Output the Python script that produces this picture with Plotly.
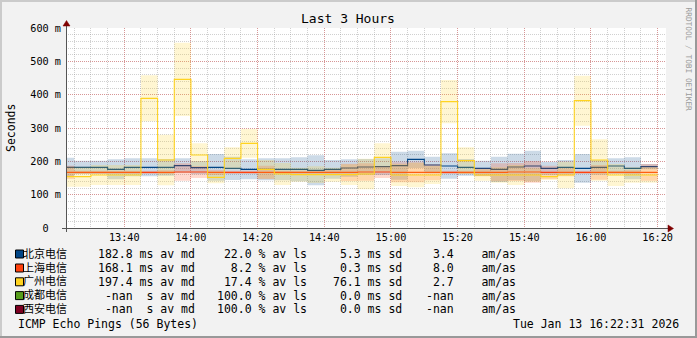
import plotly.graph_objects as go
import pandas as pd

# ---------------- data ----------------
slot_times = ["13:20", "13:25", "13:30", "13:35", "13:40", "13:45", "13:50", "13:55",
              "14:00", "14:05", "14:10", "14:15", "14:20", "14:25", "14:30", "14:35",
              "14:40", "14:45", "14:50", "14:55", "15:00", "15:05", "15:10", "15:15",
              "15:20", "15:25", "15:30", "15:35", "15:40", "15:45", "15:50", "15:55",
              "16:00", "16:05", "16:10", "16:15"]
slot_end = "16:20"
day = "2026-01-13"
range_start = "13:22:31"
range_end = "16:22:31"
x_ticks = ["13:40", "14:00", "14:20", "14:40", "15:00", "15:20", "15:40", "16:00", "16:20"]

# 北京电信 median / spread (ms)
bj_med = [182, 182, 182, 176, 182, 182, 182, 187, 181, 182, 179, 176, 176, 176, 176, 173,
          176, 180, 183, 184, 187, 206, 189, 186, 182, 179, 176, 183, 186, 179, 182, 179,
          182, 186, 179, 184]
bj_sd = [29, 20, 20, 30, 27, 27, 25, 22, 20, 40, 35, 30, 33, 33, 36, 45,
         28, 26, 24, 25, 42, 26, 25, 38, 25, 23, 38, 40, 46, 20, 22, 43,
         22, 23, 33, 8]
# 上海电信
sh_med = [167, 167, 167, 167, 167, 167, 167, 168, 168, 167, 167, 167, 167, 167, 167, 167,
          167, 167, 168, 168, 167, 167, 167, 167, 167, 167, 167, 168, 168, 167, 167, 167,
          167, 167, 167, 167]
sh_sd = [20, 5, 5, 5, 5, 5, 6, 26, 18, 8, 5, 5, 20, 5, 5, 5,
         8, 26, 26, 18, 30, 30, 24, 5, 5, 12, 27, 27, 32, 20, 12, 5,
         22, 5, 6, 25]
# 广州电信
gz_med = [154, 154, 159, 159, 159, 389, 204, 446, 219, 152, 209, 254, 176, 162, 160, 160,
          160, 160, 162, 212, 159, 159, 159, 379, 202, 159, 159, 159, 159, 154, 159, 382,
          204, 159, 159, 159]
gz_sd = [30, 30, 30, 30, 30, 69, 76, 110, 35, 18, 33, 43, 28, 33, 21, 25,
         21, 31, 46, 42, 33, 37, 27, 65, 40, 17, 23, 30, 20, 10, 40, 75,
         62, 33, 23, 23]

hosts = ["北京电信", "上海电信", "广州电信", "成都电信", "西安电信"]
host_colors = ["#004586", "#ff420e", "#ffd320", "#579d1c", "#7e0021"]
band_rgb = ["0,69,134", "255,66,14", "255,211,32"]
avg_md = [182.8, 168.1, 197.4, None, None]
avg_ls = [22.0, 8.2, 17.4, 100.0, 100.0]
avg_sd = [5.3, 0.3, 76.1, 0.0, 0.0]
am_as = [3.4, 8.0, 2.7, None, None]

y_ticks = [0, 100, 200, 300, 400, 500, 600]
y_ticktext = ["0\u00a0\u00a0", "100\u00a0m", "200\u00a0m", "300\u00a0m",
              "400\u00a0m", "500\u00a0m", "600\u00a0m"]

title = "Last 3 Hours"
y_title = "Seconds"
footer_left = "ICMP Echo Pings (56 Bytes)"
footer_right = "Tue Jan 13 16:22:31 2026"
watermark = "RRDTOOL / TOBI OETIKER"

# ---------------- helpers ----------------
W, H = 697, 338
L, R, T, B = 66, 666, 28, 228
MONO = "DejaVu Sans Mono, Noto Sans CJK SC"


def px(x):
    return (x - L) / (R - L)


def py(y):
    return (B - y) / (B - T)


starts = [pd.Timestamp(f"{day} {t}") for t in slot_times]
ends = starts[1:] + [pd.Timestamp(f"{day} {slot_end}")]
minor_vals = starts + [ends[-1]]
major_vals = [pd.Timestamp(f"{day} {t}") for t in x_ticks]


def band_poly(med, sd):
    xs, ys = [], []
    for t0, t1, m, s in zip(starts, ends, med, sd):
        xs += [t0, t1]
        ys += [m + s, m + s]
    for t0, t1, m, s in reversed(list(zip(starts, ends, med, sd))):
        xs += [t1, t0]
        ys += [m - s, m - s]
    return xs, ys


fig = go.Figure()
series = [(bj_med, bj_sd), (sh_med, sh_sd), (gz_med, gz_sd)]
for i, (med, sd) in enumerate(series):
    bx, by = band_poly(med, sd)
    fig.add_trace(go.Scatter(x=bx, y=by, mode="none", fill="toself",
                             fillcolor=f"rgba({band_rgb[i]},0.2)",
                             hoverinfo="skip", showlegend=False))
    fig.add_trace(go.Scatter(x=starts + [ends[-1]], y=med + [med[-1]], mode="lines",
                             line=dict(color=host_colors[i], width=1.1, shape="hv"),
                             showlegend=False))

mgrid = "rgba(224,80,80,0.45)"
grid = "rgba(143,143,143,0.42)"
fig.update_xaxes(
    type="date",
    range=[f"{day} {range_start}", f"{day} {range_end}"],
    tickmode="array", tickvals=major_vals, ticktext=x_ticks,
    showgrid=True, gridcolor=mgrid, griddash="1px,1px", gridwidth=1,
    minor=dict(tickmode="array", tickvals=minor_vals, showgrid=True,
               gridcolor=grid, griddash="1px,1px", gridwidth=1),
    showline=False, zeroline=False, ticks="",
    tickfont=dict(family=MONO, size=10.2, color="#000"),
    ticklabelstandoff=2,
)
fig.update_yaxes(
    range=[0, 600], tickmode="array", tickvals=y_ticks, ticktext=y_ticktext,
    showgrid=True, gridcolor=mgrid, griddash="1px,1px", gridwidth=1,
    minor=dict(tick0=0, dtick=20, showgrid=True, gridcolor=grid,
               griddash="1px,1px", gridwidth=1),
    showline=False, zeroline=False, ticks="",
    tickfont=dict(family=MONO, size=10.2, color="#000"),
    ticklabelstandoff=4,
)

shapes = []
# frame shades
shapes.append(dict(type="rect", xref="paper", yref="paper", x0=px(0), x1=px(W), y0=py(0), y1=py(2),
                   fillcolor="#cbcbcb", line_width=0, layer="above"))
shapes.append(dict(type="rect", xref="paper", yref="paper", x0=px(0), x1=px(2), y0=py(0), y1=py(H),
                   fillcolor="#cbcbcb", line_width=0, layer="above"))
shapes.append(dict(type="rect", xref="paper", yref="paper", x0=px(0), x1=px(W), y0=py(H - 2), y1=py(H),
                   fillcolor="#999999", line_width=0, layer="above"))
shapes.append(dict(type="rect", xref="paper", yref="paper", x0=px(W - 2), x1=px(W), y0=py(0), y1=py(H),
                   fillcolor="#999999", line_width=0, layer="above"))
# axes
axis_col = "#555555"
shapes.append(dict(type="line", xref="paper", yref="paper", x0=px(62), x1=px(669), y0=py(228.5), y1=py(228.5),
                   line=dict(color=axis_col, width=1), layer="above"))
shapes.append(dict(type="line", xref="paper", yref="paper", x0=px(66.5), x1=px(66.5), y0=py(232), y1=py(25),
                   line=dict(color=axis_col, width=1), layer="above"))
# arrows
shapes.append(dict(type="path", xref="paper", yref="paper",
                   path=f"M {px(668)} {py(225)} L {px(673.5)} {py(228.5)} L {px(668)} {py(232)} Z",
                   fillcolor="#7f0000", line=dict(color="#7f0000", width=0.5), layer="above"))
shapes.append(dict(type="path", xref="paper", yref="paper",
                   path=f"M {px(63)} {py(26)} L {px(66.5)} {py(20.5)} L {px(70)} {py(26)} Z",
                   fillcolor="#7f0000", line=dict(color="#7f0000", width=0.5), layer="above"))

ann = []


def text(x, y, s, size=11.5, anchor="left", color="#000", angle=0):
    ann.append(dict(x=px(x), y=py(y), xref="paper", yref="paper", text=s.replace(" ", "\u00a0"),
                    showarrow=False, xanchor=anchor, yanchor="middle", textangle=angle,
                    font=dict(family=MONO, size=size, color=color)))


text(348, 18.5, title, size=13, anchor="center")
text(11, 128, y_title, size=11.5, anchor="center", angle=-90)
text(688.5, 59, watermark, size=7.8, anchor="center", color="#9a9a9a", angle=90)

row_y = [254, 268, 281.8, 295.6, 309.4]
for i, name in enumerate(hosts):
    yy = row_y[i]
    shapes.append(dict(type="rect", xref="paper", yref="paper", x0=px(15.5), x1=px(23.5),
                       y0=py(yy - 4), y1=py(yy + 4), fillcolor=host_colors[i],
                       line=dict(color="#000", width=1), layer="above"))
    text(20.5, yy, name, size=11)
    md = f"{avg_md[i]:5.1f} ms av md" if avg_md[i] is not None else " -nan  s av md"
    text(95.5, yy, md)
    text(215, yy, f"{avg_ls[i]:5.1f} % av ls")
    text(331, yy, f"{avg_sd[i]:4.1f} ms sd")
    aa = f"{am_as[i]:4.1f}" if am_as[i] is not None else "-nan"
    text(424, yy, f"{aa}    am/as")

text(16, 324, footer_left)
text(681, 324, footer_right, anchor="right")

fig.update_layout(
    width=W, height=H, autosize=False,
    margin=dict(l=L, r=W - R, t=T, b=H - B, pad=0),
    paper_bgcolor="#f2f2f2", plot_bgcolor="#ffffff",
    shapes=shapes, annotations=ann, showlegend=False,
)

fig.write_html("out.html")
